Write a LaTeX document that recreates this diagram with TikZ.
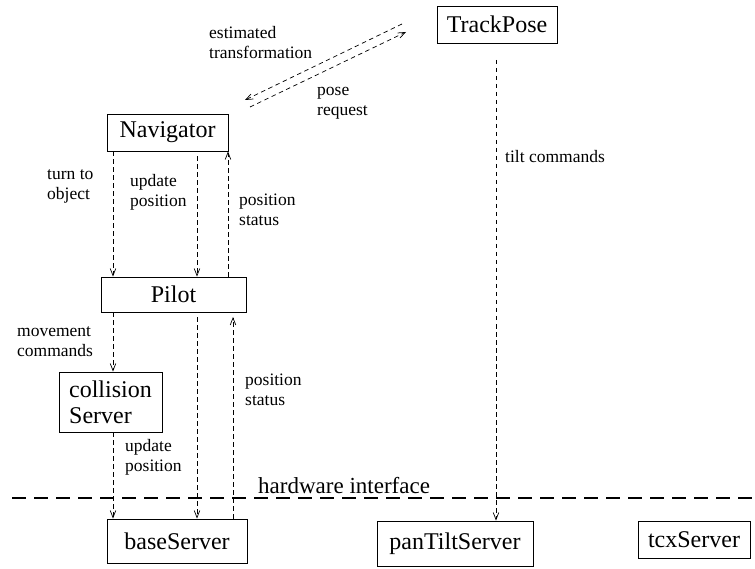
\documentclass[tikz,border=0pt]{standalone}
\usepackage{fontspec}
\setmainfont{Liberation Serif}
\usetikzlibrary{arrows.meta}
\begin{document}
\begin{tikzpicture}[x=1pt,y=-1pt,
  box/.style={draw,line width=0.9pt,inner sep=0pt,font=\fontsize{24}{26}\selectfont},
  lbl/.style={anchor=west,align=left,inner sep=0pt,font=\fontsize{17.5}{20}\selectfont},
  flow/.style={line width=0.7pt,dash pattern=on 4.5pt off 3.5pt,-{Straight Barb[length=7pt,width=5.5pt,line width=0.7pt]}},
  hw/.style={line width=2.2pt,dash pattern=on 14pt off 8pt}]
\useasboundingbox (0,0) rectangle (755,569);
% boxes
\node[box,minimum width=120pt,minimum height=37pt] (tp) at (497,24.5) {TrackPose};
\node[box,minimum width=121pt,minimum height=37pt] (nav) at (167.5,132.5) {Navigator};
\node[box,minimum width=145pt,minimum height=35pt] (pilot) at (173.5,294.5) {Pilot};
\node[box,minimum width=103pt,minimum height=60pt,align=left,font=\fontsize{24}{26}\selectfont] (coll) at (110.5,402) {collision\\Server};
\node[box,minimum width=140pt,minimum height=44pt] (base) at (177,541) {baseServer};
\node[box,minimum width=156pt,minimum height=45pt] (pan) at (455,543.5) {panTiltServer};
\node[box,minimum width=112pt,minimum height=37pt] (tcx) at (694,539.5) {tcxServer};
% hardware interface line
\coordinate (hwL) at (12,498);
\coordinate (hwR) at (755,498);
\draw[hw] (hwL) -- (hwR);
\node[anchor=base west,inner sep=0pt,font=\fontsize{23}{25}\selectfont] (hwlbl) at (258,493) {hardware interface};
% vertical flows
\draw[flow] (113,0 |- nav.south) -- (113,0 |- pilot.north);
\draw[flow] (197,156 |- nav.south) ++(0,5) -- (197,0 |- pilot.north);
\draw[flow] (228,0 |- pilot.north) -- (228,0 |- nav.south);
\draw[flow] (113,0 |- pilot.south) -- (113,0 |- coll.north);
\draw[flow] (197,0 |- pilot.south) ++(0,5) -- (197,0 |- base.north);
\coordinate (pstop) at (233,317);
\draw[flow] (233,0 |- base.north) -- (pstop);
\draw[flow] (113,0 |- coll.south) -- (113,0 |- base.north);
\coordinate (tpstart) at (496,60);
\draw[flow] (tpstart) -- (496,0 |- pan.north);
% diagonal flows
\coordinate (d1s) at (402,24);
\coordinate (d1e) at (245,100);
\coordinate (d2s) at (250,107);
\coordinate (d2e) at (406,32);
\draw[flow] (d1s) -- (d1e);
\draw[flow] (d2s) -- (d2e);
% labels
\node[lbl] (l1) at (209,43) {estimated\\transformation};
\node[lbl] (l2) at (317,103) {pose\\request};
\node[lbl] (l3) at (47,186) {turn to\\object};
\node[lbl] (l4) at (130,192) {update\\position};
\node[lbl] (l5) at (239,210) {position\\status};
\node[lbl] (l6) at (505,157) {tilt commands};
\node[lbl] (l7) at (17,342) {movement\\commands};
\node[lbl] (l8) at (245,390) {position\\status};
\node[lbl] (l9) at (125,457) {update\\position};
\end{tikzpicture}
\end{document}
